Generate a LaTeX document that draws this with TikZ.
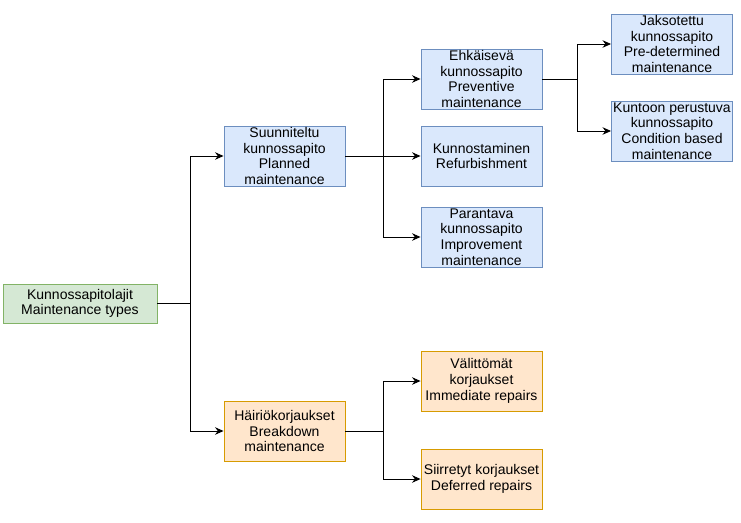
\documentclass[tikz,border=0pt]{standalone}
\usepackage{fontspec}
\setmainfont{Liberation Sans}
\usetikzlibrary{arrows.meta}
\definecolor{bfill}{HTML}{DAE8FC}
\definecolor{bline}{HTML}{6C8EBF}
\definecolor{ofill}{HTML}{FFE6CC}
\definecolor{oline}{HTML}{D79B00}
\definecolor{gfill}{HTML}{D5E8D4}
\definecolor{gline}{HTML}{82B366}
\tikzset{
  box/.style={draw, line width=0.9pt, minimum width=121pt, minimum height=60pt, inner sep=0pt, align=center, font=\fontsize{14pt}{15.7pt}\selectfont},
  bluebox/.style={box, fill=bfill, draw=bline},
  orangebox/.style={box, fill=ofill, draw=oline},
  greenbox/.style={box, fill=gfill, draw=gline, minimum width=154pt, minimum height=39pt},
  arr/.style={line width=0.9pt, -{Stealth[length=8.5pt,width=7.5pt]}},
  ln/.style={line width=0.9pt}
}
\begin{document}
\begin{tikzpicture}[x=1pt,y=-1pt]
\useasboundingbox (0,0) rectangle (741,522);
\node[greenbox] (root) at (80,303.5) {Kunnossapitolajit\\Maintenance types};
\node[bluebox] (plan) at (284.5,156) {Suunniteltu\\kunnossapito\\Planned\\maintenance};
\node[orangebox] (brk) at (284.5,431) {Häiriökorjaukset\\Breakdown\\maintenance};
\node[bluebox] (prev) at (481.5,79) {Ehkäisevä\\kunnossapito\\Preventive\\maintenance};
\node[bluebox] (refu) at (481.5,156) {Kunnostaminen\\Refurbishment};
\node[bluebox] (impr) at (481.5,237) {Parantava\\kunnossapito\\Improvement\\maintenance};
\node[bluebox] (jaks) at (672,44) {Jaksotettu\\kunnossapito\\Pre-determined\\maintenance};
\node[bluebox] (cond) at (672,131) {Kuntoon perustuva\\kunnossapito\\Condition based\\maintenance};
\node[orangebox] (imm) at (481.5,381) {Välittömät\\korjaukset\\Immediate repairs};
\node[orangebox] (def) at (481.5,479) {Siirretyt korjaukset\\Deferred repairs};
\coordinate (j1) at (190,303.5);
\coordinate (j2) at (383,156);
\coordinate (j3) at (577,79);
\coordinate (j4) at (383,431);
\draw[ln] (root.east) -- (j1);
\draw[arr] (j1) |- (plan.west);
\draw[arr] (j1) |- (brk.west);
\draw[arr] (plan.east) -- (refu.west);
\draw[arr] (j2) |- (prev.west);
\draw[arr] (j2) |- (impr.west);
\draw[ln] (prev.east) -- (j3);
\draw[arr] (j3) |- (jaks.west);
\draw[arr] (j3) |- (cond.west);
\draw[ln] (brk.east) -- (j4);
\draw[arr] (j4) |- (imm.west);
\draw[arr] (j4) |- (def.west);
\end{tikzpicture}
\end{document}
